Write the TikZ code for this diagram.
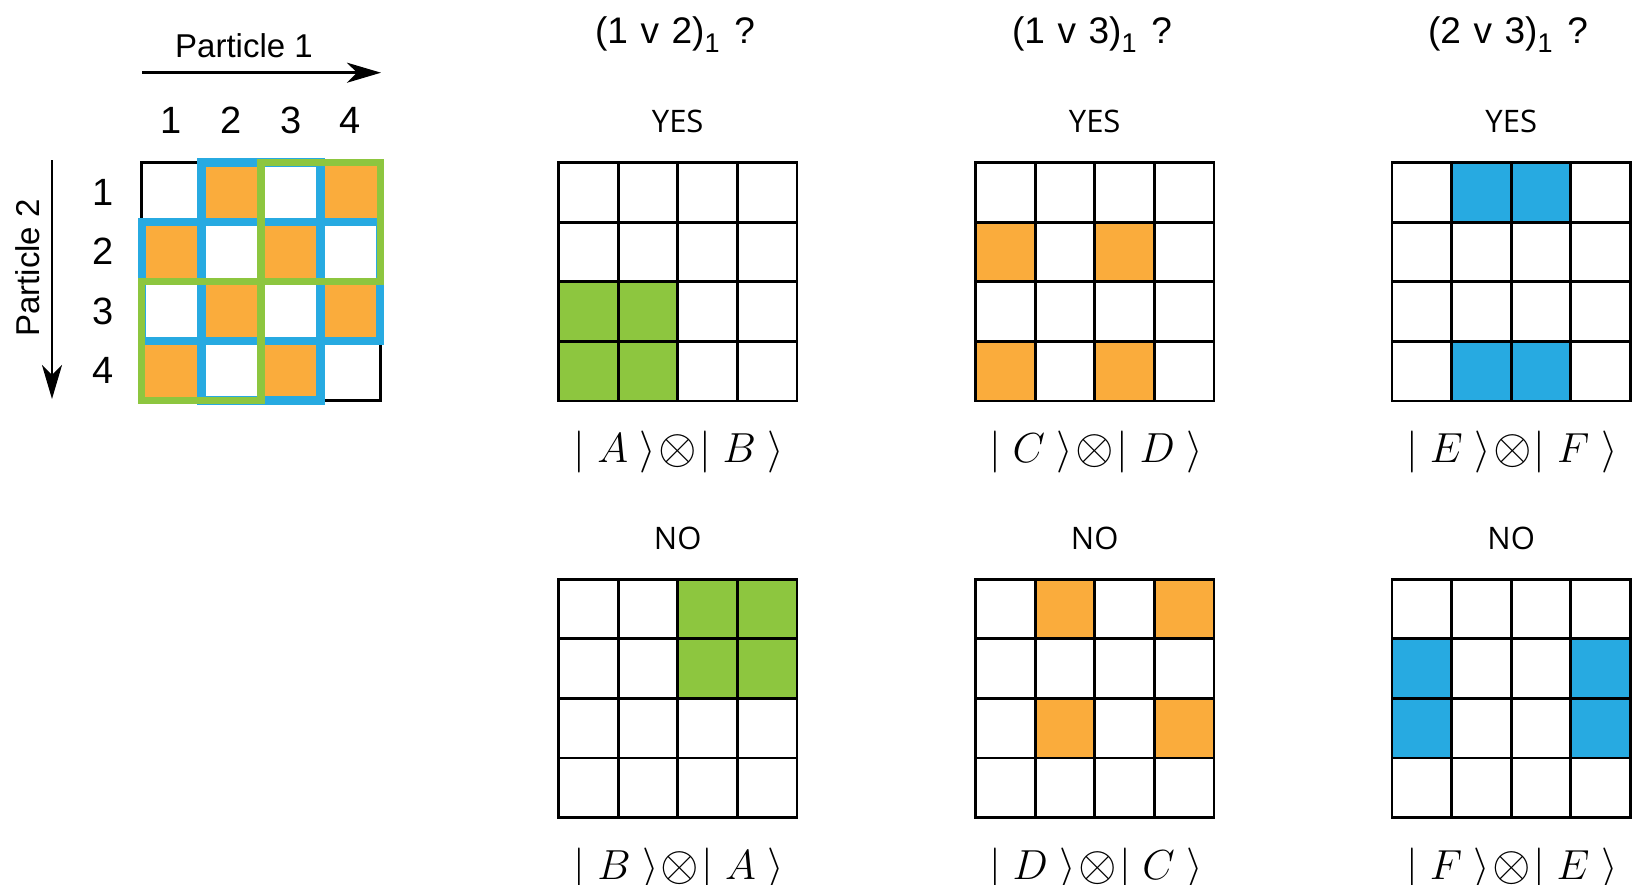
\RequirePackage{fix-cm}
\documentclass[tikz,border=0pt]{standalone}
\usepackage{graphicx}
\usepackage{fontspec}
\setmainfont{Liberation Sans}
\newfontfamily\osans{Open Sans}
\usetikzlibrary{arrows.meta}
\definecolor{myorange}{RGB}{250,172,60}
\definecolor{myblue}{RGB}{39,170,225}
\definecolor{mygreen}{RGB}{141,198,63}
\tikzset{
  gridline/.style={black, line width=1.4pt, line cap=rect},
  blueline/.style={myblue, line width=4.2pt, line join=miter},
  greenline/.style={mygreen, line width=3.6pt, line join=miter},
  axisarrow/.style={black, line width=1.4pt, -{Stealth[length=17pt,width=10pt,inset=5pt]}},
  axislabel/.style={font=\fontsize{16.5}{18}\selectfont, inner sep=0pt},
  idx/.style={font=\fontsize{19}{20}\selectfont, inner sep=0pt},
  title/.style={font=\fontsize{18.5}{20}\selectfont, inner sep=0pt, anchor=base},
  answer/.style={font=\osans\fontsize{15.5}{18}\selectfont, inner sep=0pt},
  ket/.style={font=\fontsize{21}{25}\selectfont, inner sep=0pt, anchor=base},
}
\newcommand{\qgrid}[4]{%
  \foreach \cc/\rr in {#4}{\fill[#3] ({#1+(\cc-1)*59.6},{#2+(\rr-1)*59.6}) rectangle ++(59.6,59.6);}
  \foreach \i in {0,...,4}{%
    \draw[gridline] ({#1+\i*59.6},#2) -- ++(0,238.4);
    \draw[gridline] (#1,{#2+\i*59.6}) -- ++(238.4,0);}
}
\newcommand{\titletext}[2]{(#1\hspace{0.34em}v\hspace{0.34em}#2)\raisebox{-4.5pt}{\fontsize{13.5}{13.5}\selectfont 1}\hspace{0.4em}?}
\newcommand{\tens}{\mathbin{\vcenter{\hbox{\scalebox{1.18}{$\otimes$}}}}}
\begin{document}
\begin{tikzpicture}[x=0.5pt,y=-0.5pt]
\useasboundingbox (0,0) rectangle (1634,884);
\fill[white] (0,0) rectangle (1634,884);

% ---------- left overview grid ----------
\qgrid{141.7}{162.3}{myorange}{2/1,4/1,1/2,3/2,2/3,4/3,1/4,3/4}
% blue outlines
\draw[blueline] (201.3,162.3) rectangle (320.5,221.9);
\draw[blueline] (201.3,340.7) rectangle (320.5,400.3);
\draw[blueline] (141.7,221.9) rectangle (201.3,340.7);
\draw[blueline] (320.5,221.9) rectangle (380.1,340.7);
% green outlines
\draw[greenline] (260.9,162.3) rectangle (380.1,281.3);
\draw[greenline] (141.7,281.3) rectangle (260.9,400.3);

\node[axislabel] (p1) at (244,46) {Particle 1};
\coordinate (p1s) at (142,72.7);
\coordinate (p1e) at (381,72.7);
\draw[axisarrow] (p1s) -- (p1e);
\node[axislabel, rotate=90] (p2) at (28,268) {Particle 2};
\coordinate (p2s) at (52,160);
\coordinate (p2e) at (52,399);
\draw[axisarrow] (p2s) -- (p2e);

\node[idx] (c1) at (171.5,120) {1};
\node[idx] (c2) at (231.1,120) {2};
\node[idx] (c3) at (290.7,120) {3};
\node[idx] (c4) at (350.3,120) {4};
\node[idx] (r1) at (103,192.1) {1};
\node[idx] (r2) at (103,251.7) {2};
\node[idx] (r3) at (103,311.3) {3};
\node[idx] (r4) at (103,370.9) {4};

% ---------- titles ----------
\node[title] (t1) at (675,43) {\titletext{1}{2}};
\node[title] (t2) at (1092,43) {\titletext{1}{3}};
\node[title] (t3) at (1508,43) {\titletext{2}{3}};

% ---------- top row (YES) ----------
\node[answer] (y1) at (677.7,121) {YES};
\node[answer] (y2) at (1094.7,121) {YES};
\node[answer] (y3) at (1511.2,121) {YES};
\qgrid{558.5}{162.5}{mygreen}{1/3,2/3,1/4,2/4}
\qgrid{975.5}{162.5}{myorange}{1/2,3/2,1/4,3/4}
\qgrid{1392}{162.5}{myblue}{2/1,3/1,2/4,3/4}
\node[ket] (k1) at (679,462) {$|\;A\;\rangle\!\tens\!|\;B\;\rangle$};
\node[ket] (k2) at (1096,462) {$|\;C\;\rangle\!\tens\!|\;D\;\rangle$};
\node[ket] (k3) at (1512,462) {$|\;E\;\rangle\!\tens\!|\;F\;\rangle$};

% ---------- bottom row (NO) ----------
\node[answer] (n1) at (677.7,538) {NO};
\node[answer] (n2) at (1094.7,538) {NO};
\node[answer] (n3) at (1511.2,538) {NO};
\qgrid{558.5}{579.2}{mygreen}{3/1,4/1,3/2,4/2}
\qgrid{975.5}{579.2}{myorange}{2/1,4/1,2/3,4/3}
\qgrid{1392}{579.2}{myblue}{1/2,1/3,4/2,4/3}
\node[ket] (k4) at (679,879) {$|\;B\;\rangle\!\tens\!|\;A\;\rangle$};
\node[ket] (k5) at (1096,879) {$|\;D\;\rangle\!\tens\!|\;C\;\rangle$};
\node[ket] (k6) at (1512,879) {$|\;F\;\rangle\!\tens\!|\;E\;\rangle$};
\end{tikzpicture}
\end{document}
